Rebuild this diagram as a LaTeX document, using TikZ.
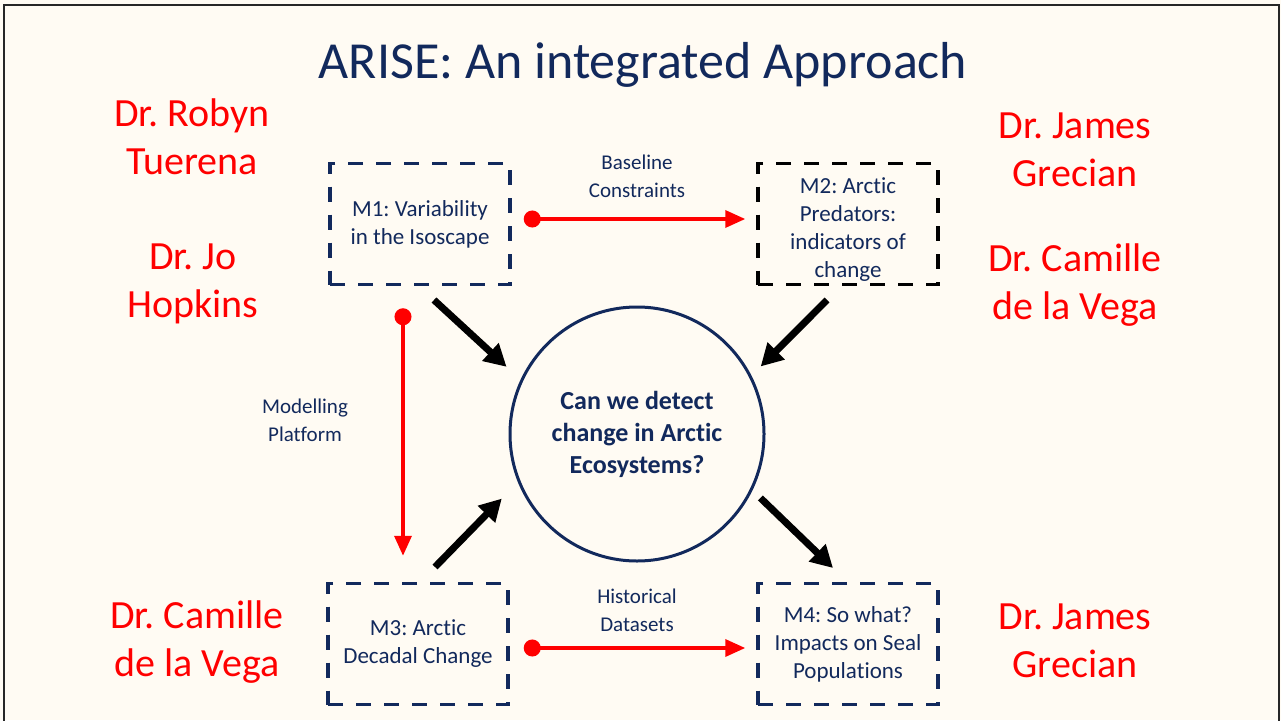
\documentclass[tikz,border=0pt]{standalone}
\usepackage{fontspec}
\setmainfont{Carlito}[Ligatures=NoCommon]
\frenchspacing
\usetikzlibrary{arrows.meta}
\definecolor{navy}{RGB}{18,41,92}
\definecolor{cream}{RGB}{255,251,243}

\begin{document}
\begin{tikzpicture}[x=1pt,y=-1pt,
  modbox/.style={draw=navy,line width=3.5pt,dash pattern=on 15pt off 13pt,minimum width=180pt,minimum height=121pt,inner sep=0pt,align=center,text=navy,font=\fontsize{23}{28}\selectfont},
  who/.style={text=red,align=center,font=\fontsize{40}{48}\selectfont},
  lbl/.style={text=navy,align=center,font=\fontsize{21}{28}\selectfont},
  redlink/.style={red,line width=3.5pt,{Circle[length=17pt]}-{Triangle[length=20pt,width=17pt]}},
  bigarrow/.style={black,line width=7pt,-{Triangle[length=22pt,width=23pt]}}]
\useasboundingbox (0,0) rectangle (1281,720);
\fill[cream] (0,0) rectangle (1281,720);
\draw[line width=2.5pt,black!85] (4,740) -- (4,5) -- (1279,5) -- (1279,740);

\node[text=navy,font=\fontsize{52}{62}\selectfont] (title) at (643,65) {ARISE: An integrated Approach};

% modules
\node[modbox] (m1) at (420,224) {M1: Variability\\in the Isoscape};
\node[modbox,draw=black] (m2) at (848,224) {\raisebox{-6pt}[\height][\depth]{\begin{tabular}{@{}c@{}}M2: Arctic\\Predators:\\indicators of\\change\end{tabular}}};
\node[modbox] (m3) at (418,644) {M3: Arctic\\Decadal Change};
\node[modbox] (m4) at (848,644) {M4: So what?\\Impacts on Seal\\Populations};

\node[circle,draw=navy,line width=3pt,minimum size=254pt,inner sep=0pt,text=navy,align=center,font=\bfseries\fontsize{26}{32}\selectfont] (q) at (637,434) {Can we detect\\change in Arctic\\Ecosystems?};

% links between modules
\draw[redlink,shorten <=12pt,shorten >=11pt] ([yshift=5pt]m1.east) -- ([yshift=5pt]m2.west);
\draw[redlink,shorten <=22pt,shorten >=26pt] ([xshift=-17pt]m1.south) -- ([xshift=-17pt]m1.south |- m3.north);
\draw[redlink,shorten <=14pt,shorten >=11pt] ([yshift=-4pt]m3.east) -- ([yshift=-4pt]m4.west);

\node[lbl] (basel) at (637,176) {Baseline\\Constraints};
\node[lbl] (model) at (305,420) {Modelling\\Platform};
\node[lbl] (hist) at (637,610) {Historical\\Datasets};

\coordinate (t1) at (434,300);
\coordinate (t2) at (827,300);
\coordinate (t3) at (435,567);
\coordinate (t4) at (833,568);
\draw[bigarrow,shorten >=19pt] (t1) -- (q.155);
\draw[bigarrow,shorten >=13pt] (t2) -- (q.27);
\draw[bigarrow,shorten >=23pt] (t3) -- (q.202);
\draw[bigarrow,shorten <=11pt] (q.334) -- (t4);

% people
\foreach \px/\py/\who [count=\i] in {192/137/{Dr. Robyn\\Tuerena}, 193/284/{Dr. Jo\\Hopkins}, 197/642/{Dr. Camille\\de la Vega}, 1075/150/{Dr. James\\Grecian}, 1075/285/{Dr. Camille\\de la Vega}, 1075/641/{Dr. James\\Grecian}}{
	\node[who] (dr\i) at (\px,\py) {\who};
	}
\end{tikzpicture}
\end{document}
